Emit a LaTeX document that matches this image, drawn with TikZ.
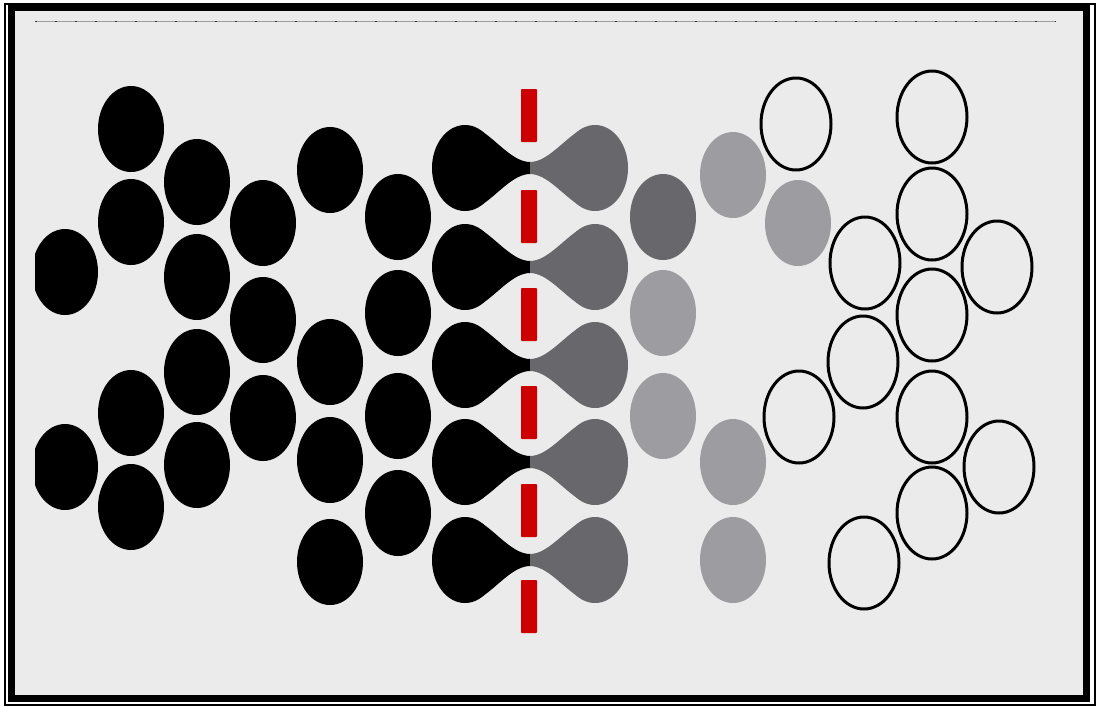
\documentclass[tikz,border=0pt]{standalone}
\definecolor{panel}{RGB}{235,235,235}
\definecolor{darkbead}{RGB}{104,104,108}
\definecolor{lightbead}{RGB}{156,156,161}
\definecolor{cutred}{RGB}{204,0,0}
\tikzset{
  bead/.style={x radius=33, y radius=43},
  ring/.style={x radius=35, y radius=46}
}
\begin{document}
\begin{tikzpicture}[x=0.02cm, y=-0.02cm]
  \useasboundingbox (0,0) rectangle (1099,707);
  \fill[white] (0,0) rectangle (1099,707);
  \draw[line width=0.04cm] (5,3.5) rectangle (1094.5,705);
  \draw[line width=0.13cm, fill=panel] (11.5,8) rectangle (1086.5,698.5);
  \draw[gray!75, line width=0.4pt] (35,21) -- (1055,21);
  \draw[gray!40!black, line width=0.4pt, dash pattern=on 0.04cm off 0.36cm] (35,21) -- (1055,21);
  \begin{scope}
    \clip (35,22) rectangle (1083,695);
    \foreach \x/\ys in {65/{272,467}, 131/{129,222,413,507}, 197/{182,277,372,465},
                        263/{223,320,418}, 330/{170,362,460,562}, 398/{217,313,416,513}} {
      \foreach \y in \ys
        \fill[black] (\x,\y) circle[bead];
    }
    \foreach \y in {168,267,365,462,560} {
      \fill[black] (530,\y-6) .. controls (512,\y-6) and (495,\y-30) .. (478,\y-39)
        -- (478,\y+39) .. controls (495,\y+30) and (512,\y+6) .. (530,\y+6) -- cycle;
      \fill[darkbead] (530,\y-6) .. controls (548,\y-6) and (565,\y-30) .. (582,\y-39)
        -- (582,\y+39) .. controls (565,\y+30) and (548,\y+6) .. (530,\y+6) -- cycle;
      \fill[black] (465,\y) circle[bead];
      \fill[darkbead] (595,\y) circle[bead];
    }
    \foreach \y in {115,216,314,412,510,606}
      \fill[cutred, rounded corners=0.5pt] (521,\y-26) rectangle (537,\y+27);
    \fill[darkbead] (663,217) circle[bead];
    \foreach \x/\y in {663/313, 663/416, 733/175, 733/462, 733/560, 798/223}
      \fill[lightbead] (\x,\y) circle[bead];
    \foreach \x/\y in {796/124, 932/117, 932/214, 865/263, 997/267, 932/315,
                       863/362, 799/417, 932/417, 999/467, 932/513, 864/563}
      \draw[line width=1.7pt] (\x,\y) circle[ring];
  \end{scope}
\end{tikzpicture}
\end{document}
